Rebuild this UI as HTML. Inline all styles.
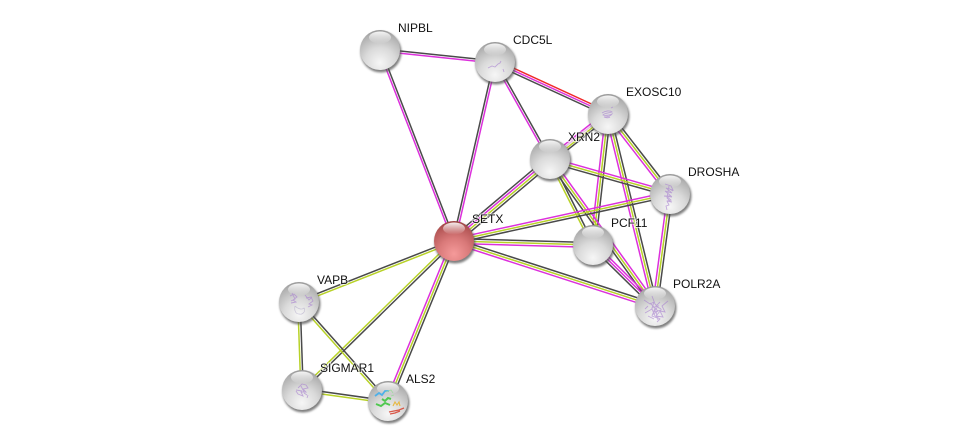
<!DOCTYPE html>
<html><head><meta charset="utf-8"><style>
html,body{margin:0;padding:0;background:#fff;width:976px;height:446px;overflow:hidden}
svg{display:block}
line{stroke-width:1.5;fill:none}
line.k{stroke:#4a4a4a}
line.m{stroke:#dc30dc}
line.o{stroke:#b8d228}
line.r{stroke:#f02828}
line.p{stroke:#e6bce6}
text{font-family:"Liberation Sans",sans-serif;font-size:12px;fill:#111;paint-order:stroke;stroke:rgba(255,255,255,.65);stroke-width:2px}
.s{fill:none;stroke:#a880d0;stroke-width:.9;opacity:.62;filter:url(#bs)}
.c{filter:url(#bs)}
</style></head><body>
<svg width="976" height="446" viewBox="0 0 976 446" xmlns="http://www.w3.org/2000/svg">
<defs>
<radialGradient id="g" cx="50%" cy="82%" r="85%"><stop offset="0" stop-color="#f6f6f6"/><stop offset=".45" stop-color="#dadada"/><stop offset=".85" stop-color="#b0b0b0"/><stop offset="1" stop-color="#8e8e8e"/></radialGradient>
<radialGradient id="gr" cx="50%" cy="82%" r="85%"><stop offset="0" stop-color="#f59a9a"/><stop offset=".45" stop-color="#da7a7a"/><stop offset=".85" stop-color="#b25454"/><stop offset="1" stop-color="#903838"/></radialGradient>
<linearGradient id="h" x1="0" y1="0" x2="0" y2="1"><stop offset="0" stop-color="#fff" stop-opacity=".9"/><stop offset="1" stop-color="#fff" stop-opacity="0"/></linearGradient>
<filter id="b" x="-30%" y="-30%" width="160%" height="160%"><feGaussianBlur stdDeviation="1.1"/></filter>
<filter id="bs" x="-20%" y="-20%" width="140%" height="140%"><feGaussianBlur stdDeviation="0.35"/></filter>
<g id="n"><circle cx="1" cy="2" r="20.5" fill="#555" opacity=".75" filter="url(#b)"/><circle r="20" fill="url(#g)"/><ellipse cy="-12.5" rx="11" ry="6" fill="url(#h)"/></g>
<g id="nr"><circle cx="1" cy="2" r="20.5" fill="#555" opacity=".75" filter="url(#b)"/><circle r="20" fill="url(#gr)"/><ellipse cy="-12.5" rx="11" ry="6" fill="url(#h)"/></g>
</defs>

<line class="k" x1="380.1" y1="48.9" x2="495.1" y2="60.9"/><line class="m" x1="379.9" y1="51.1" x2="494.9" y2="63.1"/>
<line class="m" x1="379" y1="50.4" x2="453" y2="241.4"/><line class="k" x1="381" y1="49.6" x2="455" y2="240.6"/>
<line class="k" x1="493.9" y1="61.8" x2="452.9" y2="240.8"/><line class="m" x1="496.1" y1="62.2" x2="455.1" y2="241.2"/>
<line class="m" x1="494" y1="62.5" x2="549" y2="160.5"/><line class="k" x1="496" y1="61.5" x2="551" y2="159.5"/>
<line class="r" x1="495.9" y1="60" x2="608.9" y2="112"/><line class="m" x1="495" y1="62" x2="608" y2="114"/><line class="k" x1="494.1" y1="64" x2="607.1" y2="116"/>
<line class="m" x1="606.1" y1="111.7" x2="548.1" y2="157.7"/><line class="p" x1="607.4" y1="113.2" x2="549.4" y2="159.2"/><line class="o" x1="608.6" y1="114.8" x2="550.6" y2="160.8"/><line class="k" x1="609.9" y1="116.3" x2="551.9" y2="162.3"/>
<line class="k" x1="547.7" y1="157.2" x2="451.7" y2="238.2"/><line class="m" x1="549.2" y1="159.1" x2="453.2" y2="240.1"/><line class="o" x1="550.8" y1="160.9" x2="454.8" y2="241.9"/><line class="k" x1="552.3" y1="162.8" x2="456.3" y2="243.8"/>
<line class="m" x1="605.6" y1="113.7" x2="590.6" y2="244.7"/><line class="o" x1="608" y1="114" x2="593" y2="245"/><line class="k" x1="610.4" y1="114.3" x2="595.4" y2="245.3"/>
<line class="m" x1="605.7" y1="114.6" x2="652.7" y2="306.6"/><line class="o" x1="608" y1="114" x2="655" y2="306"/><line class="k" x1="610.3" y1="113.4" x2="657.3" y2="305.4"/>
<line class="m" x1="606.1" y1="115.5" x2="668.1" y2="195.5"/><line class="o" x1="608" y1="114" x2="670" y2="194"/><line class="k" x1="609.9" y1="112.5" x2="671.9" y2="192.5"/>
<line class="m" x1="550.65" y1="157.7" x2="670.65" y2="191.7"/><line class="o" x1="550" y1="160" x2="670" y2="194"/><line class="k" x1="549.35" y1="162.3" x2="669.35" y2="196.3"/>
<line class="o" x1="548.9" y1="160.5" x2="591.9" y2="245.5"/><line class="k" x1="551.1" y1="159.5" x2="594.1" y2="244.5"/>
<line class="m" x1="552" y1="158.6" x2="657" y2="304.6"/><line class="o" x1="550" y1="160" x2="655" y2="306"/><line class="k" x1="548" y1="161.4" x2="653" y2="307.4"/>
<line class="m" x1="594.7" y1="243.3" x2="656.7" y2="304.3"/><line class="m" x1="593" y1="245" x2="655" y2="306"/><line class="k" x1="591.3" y1="246.7" x2="653.3" y2="307.7"/>
<line class="m" x1="667.6" y1="193.7" x2="652.6" y2="305.7"/><line class="o" x1="670" y1="194" x2="655" y2="306"/><line class="k" x1="672.4" y1="194.3" x2="657.4" y2="306.3"/>
<line class="m" x1="453.5" y1="238.7" x2="669.5" y2="191.7"/><line class="o" x1="454" y1="241" x2="670" y2="194"/><line class="k" x1="454.5" y1="243.3" x2="670.5" y2="196.3"/>
<line class="k" x1="454.1" y1="238.6" x2="593.1" y2="242.6"/><line class="o" x1="454" y1="241" x2="593" y2="245"/><line class="m" x1="453.9" y1="243.4" x2="592.9" y2="247.4"/>
<line class="k" x1="454.7" y1="238.7" x2="655.7" y2="303.7"/><line class="o" x1="454" y1="241" x2="655" y2="306"/><line class="m" x1="453.3" y1="243.3" x2="654.3" y2="308.3"/>
<line class="k" x1="453.6" y1="239.9" x2="298.6" y2="300.9"/><line class="o" x1="454.4" y1="242.1" x2="299.4" y2="303.1"/>
<line class="o" x1="453.2" y1="240.1" x2="301.2" y2="389.1"/><line class="k" x1="454.8" y1="241.9" x2="302.8" y2="390.9"/>
<line class="m" x1="451.8" y1="240.1" x2="385.8" y2="401.1"/><line class="o" x1="454" y1="241" x2="388" y2="402"/><line class="k" x1="456.2" y1="241.9" x2="390.2" y2="402.9"/>
<line class="o" x1="297.8" y1="302" x2="300.8" y2="390"/><line class="k" x1="300.2" y1="302" x2="303.2" y2="390"/>
<line class="k" x1="299.9" y1="301.2" x2="388.9" y2="401.2"/><line class="o" x1="298.1" y1="302.8" x2="387.1" y2="402.8"/>
<line class="k" x1="302.2" y1="388.8" x2="388.2" y2="400.8"/><line class="o" x1="301.8" y1="391.2" x2="387.8" y2="403.2"/>

<use href="#n" x="380" y="50"/>
<use href="#n" x="495" y="62"/>
<use href="#n" x="608" y="114"/>
<use href="#n" x="550" y="159"/>
<use href="#n" x="670" y="194"/>
<use href="#n" x="593" y="245"/>
<use href="#n" x="655" y="306"/>
<use href="#nr" x="454" y="241"/>
<use href="#n" x="299" y="302"/>
<use href="#n" x="302" y="390"/>
<use href="#n" x="388" y="401"/>

<path class="s" d="M488 68l4-2 3 1 3-3 2-1 1-2M503 69l1 3"/>
<path class="s" d="M602 113c3-2 8-3 10-1-3 1-8 1-9 3 3 1 7 0 9-1-2 3-6 3-8 3 2 1 5 1 6 0M611 108l2-1"/>
<path class="s" d="M607 118l0 6" style="opacity:.4"/>
<path class="s" d="M665 184l6 2 2 4-7-2 6 5-7-2 6 5-5 0 5 4-4 1 2 4-3 1 1 4M668 188l5 3M664 196l8 1M667 201l5 1M669 186l-2 12 4 4"/>
<path class="s" d="M644 300l6 4 4-2-2 6 6-2-4 6 7-2-5 6 7 1-3-6 5 1-3-6 6-5M645 313l7-4 3 7 5 3-3 3M652 296l3 8 4 4M655 308l-3 8 5 2M648 306l-3 3M650 303l8 8-6 4M656 312l2 8M648 316l6 3M660 302l-4 4 5 3"/>
<path class="s" d="M290 296l4-2 3 3-4 3 3 2-5 1M292 293l3 6-4 2M306 298l5-1 2 4-4 3 3 1-4 2M305 295l4 5 3-3"/>
<path class="s" style="stroke:#b0a8c8;stroke-width:.7" d="M295 306c3 3 7 4 9 2 2 3-1 7-5 6-3 0-5-3-4-8"/>
<path class="s" d="M298 388l4-4 4 1 2 3-5 1 3 3-5 0 2 4-5-2-2-3M301 386l3 6M304 393l3 2M307 398l1-3M296 390l6 1"/>
<g class="c">
<path fill="none" stroke="#50b0e8" stroke-width="1.8" d="M375 396l4-3 3 2 3-4 4 0"/>
<path fill="none" stroke="#50c850" stroke-width="2" d="M376 404l5 2 4-3 5 2M382 399l3 2 3-3 3 1"/>
<path fill="none" stroke="#a0d8a0" stroke-width=".8" d="M386 392l5-2 2 3M391 396l3-1"/>
<path fill="none" stroke="#e8b840" stroke-width="1.1" d="M393 406l2-4 2 3 2-3 1 4"/>
<path fill="none" stroke="#d85848" stroke-width="1.4" d="M389 412l5-1 5-1 5-2M390 414l5-1 5-2"/>
</g>

<text x="398" y="32">NIPBL</text>
<text x="513" y="44">CDC5L</text>
<text x="626" y="96">EXOSC10</text>
<text x="568" y="141">XRN2</text>
<text x="688" y="176">DROSHA</text>
<text x="472" y="223">SETX</text>
<text x="611" y="227">PCF11</text>
<text x="673" y="288">POLR2A</text>
<text x="317" y="284">VAPB</text>
<text x="320" y="372">SIGMAR1</text>
<text x="406" y="383">ALS2</text>
</svg>
</body></html>
